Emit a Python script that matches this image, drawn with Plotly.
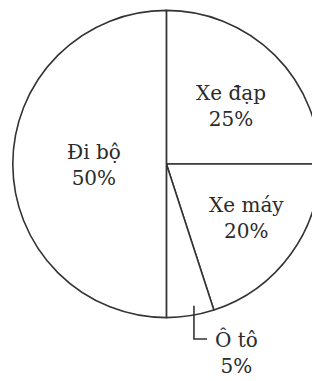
import math
import plotly.graph_objects as go

# the page body adds an 8px margin, so the figure is drawn 8px in
OFF = 8
W, H = 320 - OFF, 381 - OFF

# data
labels = ["Xe đạp", "Xe máy", "Ô tô", "Đi bộ"]
values = [25, 20, 5, 50]

# label block centres in window pixels (from top-left)
label_pos = {
    "Xe đạp": (231, 106),
    "Xe máy": (246, 218),
    "Đi bộ": (94, 165),
    "Ô tô": (237, 352),
}

# pie placement in window pixels
cx, cy, r = 166.4, 164, 153.6


def px(x, y):
    return (x - OFF) / W, 1 - (y - OFF) / H


x0, y0 = px(cx - r, cy + r)
x1, y1 = px(cx + r, cy - r)

fig = go.Figure()
fig.add_trace(go.Pie(
    labels=labels,
    values=values,
    sort=False,
    direction="clockwise",
    rotation=0,
    textinfo="none",
    hoverinfo="label+percent",
    marker=dict(colors=["white"] * len(values),
                line=dict(color="#333333", width=1.6)),
    domain=dict(x=[max(x0, 0), min(x1, 1)], y=[max(y0, 0), min(y1, 1)]),
    showlegend=False,
))

total = sum(values)
for lab, val in zip(labels, values):
    x, y = px(*label_pos[lab])
    fig.add_annotation(
        x=x, y=y, xref="paper", yref="paper",
        text=f"{lab}<br>{round(val / total * 100)}%",
        showarrow=False, xanchor="center", yanchor="middle",
        font=dict(family="DejaVu Serif", size=20, color="#2b2b2b"),
    )

# leader line for the small slice, starting inside it near its mid angle
start = sum(values[:2])
mid = (start + values[2] / 2) / total * 360
ang = math.radians(mid - 2)
sx = cx + 0.94 * r * math.sin(ang)
sy = cy - 0.94 * r * math.cos(ang)
corner_y = 339
end_x = 207
p1 = px(sx, sy)
p2 = px(sx, corner_y)
p3 = px(end_x, corner_y)
fig.add_shape(
    type="path", xref="paper", yref="paper",
    path=f"M {p1[0]},{p1[1]} L {p2[0]},{p2[1]} L {p3[0]},{p3[1]}",
    line=dict(color="#333333", width=1.6),
)

fig.update_layout(
    width=W, height=H,
    margin=dict(l=0, r=0, t=0, b=0),
    paper_bgcolor="white",
    plot_bgcolor="white",
)

fig.write_html("out.html")
